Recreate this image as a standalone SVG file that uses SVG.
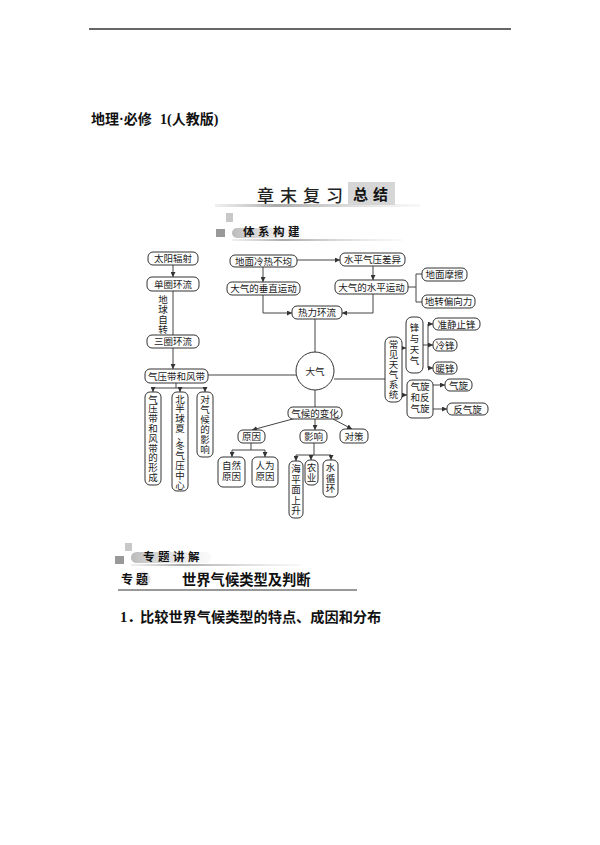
<svg xmlns="http://www.w3.org/2000/svg" width="600" height="845" viewBox="0 0 600 845">
<style>
.box{fill:#fff;stroke:#333;stroke-width:1}
.t{font-family:"Liberation Serif","Noto Sans CJK SC",serif;font-size:9.5px;fill:#1a1a1a;text-anchor:middle}
.ln{stroke:#444;stroke-width:1;fill:none}
.ar{stroke:#444;stroke-width:1;fill:none;marker-end:url(#ah)}
.hd{font-family:"Liberation Serif","Noto Sans CJK SC",serif;font-weight:bold;fill:#111}
.bk{font-family:"Noto Sans CJK SC","Liberation Sans",sans-serif;font-weight:bold;fill:#111}
</style>
<defs>
<marker id="ah" viewBox="0 0 6 6" refX="6" refY="3" markerWidth="5" markerHeight="5" markerUnits="userSpaceOnUse" orient="auto"><path d="M0,0 L6,3 L0,6 z" fill="#333"/></marker>
<linearGradient id="gl" x1="0" x2="1" y1="0" y2="0"><stop offset="0" stop-color="#ccc" stop-opacity="0.3"/><stop offset="0.3" stop-color="#aaa"/><stop offset="1" stop-color="#ddd" stop-opacity="0.2"/></linearGradient>
<linearGradient id="gb" x1="0" x2="1" y1="0" y2="0"><stop offset="0" stop-color="#bbb"/><stop offset="1" stop-color="#eee" stop-opacity="0.3"/></linearGradient>
</defs>
<rect width="600" height="845" fill="#fff"/>
<!-- header -->
<line x1="89" y1="29" x2="511" y2="29" stroke="#333" stroke-width="1.5"/>
<text class="hd" x="91" y="124" font-size="14">地理·必修<tspan x="160">1(人教版)</tspan></text>
<!-- banner -->
<g id="banner">
<rect x="215" y="204" width="205" height="3" fill="url(#gl)"/>
<text x="257" y="202" font-size="17" letter-spacing="6" font-family="Noto Sans CJK SC, sans-serif" font-weight="500" fill="#222">章末复习</text>
<rect x="348" y="182" width="47" height="23" fill="#d6d6d6"/>
<text class="hd" x="353" y="200" font-size="15" letter-spacing="5">总结</text>
</g>
<g id="sub1">
<rect x="226" y="213" width="7" height="9" fill="#c8c8c8"/>
<rect x="216" y="229" width="9" height="8" fill="#999"/>
<rect x="232" y="228" width="70" height="10" rx="5" fill="url(#gb)"/>
<rect x="232" y="239" width="170" height="2" fill="url(#gl)"/>
<text class="hd" x="243" y="236" font-size="11.5" letter-spacing="3.5">体系构建</text>
</g>
<!-- connectors -->
<g id="connectors">
<path class="ar" d="M173,265 V277"/>
<path class="ln" d="M173,291 V335"/>
<path class="ar" d="M173,348 V369"/>
<path class="ln" d="M176,383 V388 M153,388 H205"/>
<path class="ar" d="M153,388 V392"/>
<path class="ar" d="M180,388 V392"/>
<path class="ar" d="M205,388 V392"/>
<path class="ln" d="M208,375 H296"/>
<path class="ar" d="M263,267 V282"/>
<path class="ar" d="M297,260 H340"/>
<path class="ar" d="M373,266 V280"/>
<path class="ar" d="M263,295 V313 H292"/>
<path class="ar" d="M373,294 V313 H342"/>
<path class="ln" d="M408,287 H416 M416,274 V302 M416,274 H422 M416,302 H422"/>
<path class="ln" d="M315,319 V352"/>
<path class="ln" d="M334,379 H385"/>
<path class="ar" d="M402,348 H406"/>
<path class="ar" d="M402,395 H407"/>
<path class="ln" d="M423,345 H428 M428,324 V368"/>
<path class="ar" d="M428,324 H433"/>
<path class="ar" d="M428,345 H433"/>
<path class="ar" d="M428,368 H433"/>
<path class="ar" d="M433,385 H445"/>
<path class="ar" d="M433,409 H447"/>
<path class="ln" d="M315,390 V407"/>
<path class="ar" d="M300,417 L252,430"/>
<path class="ar" d="M315,419 V430"/>
<path class="ar" d="M333,419 L352,429"/>
<path class="ln" d="M251,443 V450 M232,450 H265"/>
<path class="ar" d="M232,450 V457"/>
<path class="ar" d="M265,450 V457"/>
<path class="ln" d="M314,443 V455 M296,455 H331"/>
<path class="ar" d="M296,455 V461"/>
<path class="ar" d="M311,455 V460"/>
<path class="ar" d="M331,455 V460"/>
</g>
<!-- nodes -->
<g id="n-sun"><rect class="box" x="148" y="252" width="50" height="13" rx="5"/><text class="t" x="173" y="262">太阳辐射</text></g>
<g id="n-single"><rect class="box" x="147" y="277" width="52" height="14" rx="5"/><text class="t" x="173" y="287.5">单圈环流</text></g>
<g id="n-rot"><text class="t" x="163" y="303"><tspan x="163">地</tspan><tspan x="163" dy="10">球</tspan><tspan x="163" dy="10">自</tspan><tspan x="163" dy="10">转</tspan></text></g>
<g id="n-three"><rect class="box" x="147" y="335" width="52" height="13" rx="5"/><text class="t" x="173" y="345">三圈环流</text></g>
<g id="n-belt"><rect class="box" x="145" y="369" width="63" height="14" rx="5"/><text class="t" x="176.5" y="379.5">气压带和风带</text></g>
<g id="n-b1"><rect class="box" x="145" y="392" width="16" height="93" rx="5"/><text class="t" x="153" y="402.5"><tspan x="153">气</tspan><tspan x="153" dy="9.8">压</tspan><tspan x="153" dy="9.8">带</tspan><tspan x="153" dy="9.8">和</tspan><tspan x="153" dy="9.8">风</tspan><tspan x="153" dy="9.8">带</tspan><tspan x="153" dy="9.8">的</tspan><tspan x="153" dy="9.8">形</tspan><tspan x="153" dy="9.8">成</tspan></text></g>
<g id="n-b2"><rect class="box" x="172" y="392" width="16" height="99" rx="5"/><text class="t" x="180" y="402.5"><tspan x="180">北</tspan><tspan x="180" dy="9.8">半</tspan><tspan x="180" dy="9.8">球</tspan><tspan x="180" dy="9.8">夏</tspan><tspan x="182" dy="8.5">、</tspan><tspan x="180" dy="9">冬</tspan><tspan x="180" dy="9.8">气</tspan><tspan x="180" dy="9.8">压</tspan><tspan x="180" dy="9.8">中</tspan><tspan x="180" dy="9.8">心</tspan></text></g>
<g id="n-b3"><rect class="box" x="197" y="392" width="16" height="65" rx="5"/><text class="t" x="205" y="403"><tspan x="205">对</tspan><tspan x="205" dy="10">气</tspan><tspan x="205" dy="10">候</tspan><tspan x="205" dy="10">的</tspan><tspan x="205" dy="10">影</tspan><tspan x="205" dy="10">响</tspan></text></g>
<g id="n-uneven"><rect class="box" x="230" y="255" width="67" height="12" rx="5"/><text class="t" x="263.5" y="264.5">地面冷热不均</text></g>
<g id="n-vert"><rect class="box" x="227" y="282" width="73" height="13" rx="5"/><text class="t" x="263.5" y="292">大气的垂直运动</text></g>
<g id="n-press"><rect class="box" x="340" y="253" width="65" height="13" rx="5"/><text class="t" x="372.5" y="263">水平气压差异</text></g>
<g id="n-horiz"><rect class="box" x="335" y="280" width="73" height="14" rx="5"/><text class="t" x="371.5" y="290.5">大气的水平运动</text></g>
<g id="n-fric"><rect class="box" x="422" y="268" width="45" height="13" rx="5"/><text class="t" x="444.5" y="278">地面摩擦</text></g>
<g id="n-cor"><rect class="box" x="422" y="295" width="53" height="13" rx="5"/><text class="t" x="448.5" y="305">地转偏向力</text></g>
<g id="n-thermal"><rect class="box" x="292" y="306" width="50" height="13" rx="5"/><text class="t" x="317" y="316">热力环流</text></g>
<g id="n-atm"><circle cx="315" cy="371" r="19" fill="#fff" stroke="#333" stroke-width="1"/><text class="t" x="315" y="374.5" font-size="10">大气</text></g>
<g id="n-weather"><rect class="box" x="385" y="337" width="17" height="65" rx="6"/><text class="t" x="393.5" y="348"><tspan x="393.5">常</tspan><tspan x="393.5" dy="10">见</tspan><tspan x="393.5" dy="10">天</tspan><tspan x="393.5" dy="10">气</tspan><tspan x="393.5" dy="10">系</tspan><tspan x="393.5" dy="10">统</tspan></text></g>
<g id="n-front"><rect class="box" x="406" y="317" width="17" height="56" rx="6"/><text class="t" x="414.5" y="331"><tspan x="414.5">锋</tspan><tspan x="414.5" dy="11">与</tspan><tspan x="414.5" dy="11">天</tspan><tspan x="414.5" dy="11">气</tspan></text></g>
<g id="n-cyc"><rect class="box" x="407" y="380" width="26" height="38" rx="5"/><text class="t" x="420" y="390"><tspan x="420">气旋</tspan><tspan x="420" dy="11">和反</tspan><tspan x="420" dy="11">气旋</tspan></text></g>
<g id="n-stat"><rect class="box" x="433" y="318" width="47" height="12" rx="5"/><text class="t" x="456.5" y="327.5">准静止锋</text></g>
<g id="n-cold"><rect class="box" x="433" y="339" width="24" height="12" rx="5"/><text class="t" x="445" y="348.5">冷锋</text></g>
<g id="n-warm"><rect class="box" x="433" y="362" width="24" height="12" rx="5"/><text class="t" x="445" y="371.5">暖锋</text></g>
<g id="n-cy"><rect class="box" x="445" y="379" width="27" height="12" rx="5"/><text class="t" x="458.5" y="388.5">气旋</text></g>
<g id="n-acy"><rect class="box" x="447" y="403" width="41" height="12" rx="5"/><text class="t" x="467.5" y="412.5">反气旋</text></g>
<g id="n-change"><rect class="box" x="288" y="407" width="54" height="12" rx="5"/><text class="t" x="315" y="416.5">气候的变化</text></g>
<g id="n-cause"><rect class="box" x="238" y="430" width="27" height="13" rx="5"/><text class="t" x="251.5" y="440">原因</text></g>
<g id="n-impact"><rect class="box" x="300" y="430" width="27" height="13" rx="5"/><text class="t" x="313.5" y="440">影响</text></g>
<g id="n-measure"><rect class="box" x="340" y="429" width="28" height="14" rx="5"/><text class="t" x="354" y="439.5">对策</text></g>
<g id="n-nat"><rect class="box" x="218" y="457" width="27" height="30" rx="5"/><text class="t" x="231.5" y="469"><tspan x="231.5">自然</tspan><tspan x="231.5" dy="11">原因</tspan></text></g>
<g id="n-hum"><rect class="box" x="252" y="457" width="26" height="30" rx="5"/><text class="t" x="265" y="469"><tspan x="265">人为</tspan><tspan x="265" dy="11">原因</tspan></text></g>
<g id="n-sea"><rect class="box" x="289" y="461" width="14" height="57" rx="5"/><text class="t" x="296" y="472"><tspan x="296">海</tspan><tspan x="296" dy="10.5">平</tspan><tspan x="296" dy="10.5">面</tspan><tspan x="296" dy="10.5">上</tspan><tspan x="296" dy="10.5">升</tspan></text></g>
<g id="n-agri"><rect class="box" x="305" y="460" width="13" height="25" rx="5"/><text class="t" x="311.5" y="471"><tspan x="311.5">农</tspan><tspan x="311.5" dy="10">业</tspan></text></g>
<g id="n-water"><rect class="box" x="323" y="460" width="15" height="37" rx="5"/><text class="t" x="330.5" y="471"><tspan x="330.5">水</tspan><tspan x="330.5" dy="10.5">循</tspan><tspan x="330.5" dy="10.5">环</tspan></text></g>
<!-- bottom section -->
<g id="sub2">
<rect x="125" y="543" width="7" height="8" fill="#c8c8c8"/>
<rect x="115" y="556" width="9" height="8" fill="#999"/>
<rect x="131" y="552" width="80" height="11" rx="5.5" fill="url(#gb)"/>
<rect x="131" y="564" width="170" height="2" fill="url(#gl)"/>
<text class="hd" x="143" y="561" font-size="11.5" letter-spacing="3.5">专题讲解</text>
</g>
<g id="topic">
<circle cx="143" cy="579" r="7.5" fill="#e2e2e2"/>
<text class="hd" x="121" y="584" font-size="12" letter-spacing="3">专题</text>
<text class="bk" x="182" y="585" font-size="14.3">世界气候类型及判断</text>
<line x1="118" y1="590" x2="357" y2="590" stroke="#777" stroke-width="1.5"/>
<text class="hd" x="120" y="622" font-size="14.5">1．</text>
<text class="bk" x="140" y="622" font-size="14.2">比较世界气候类型的特点、成因和分布</text>
</g>
</svg>
